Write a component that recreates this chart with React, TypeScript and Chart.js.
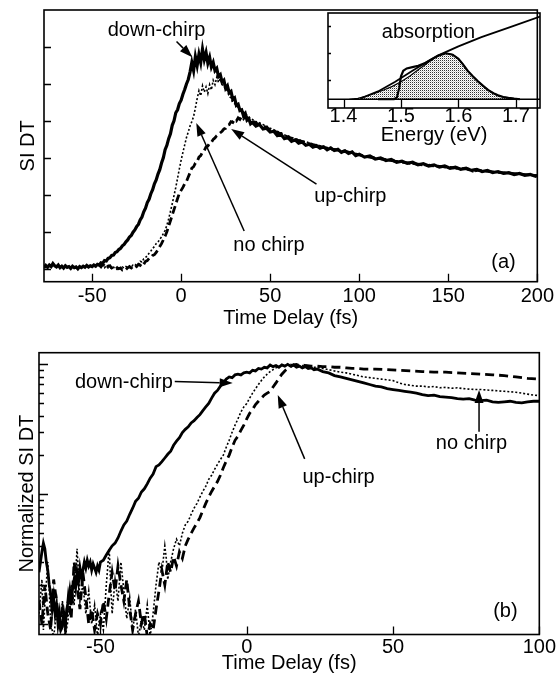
import React, { useEffect, useRef } from 'react';
import { Chart, registerables } from 'chart.js';
Chart.register(...registerables);

const FONT = '"Liberation Sans", Arial, Helvetica, sans-serif';
type P = [number, number];

// ---------- panel (a): SI DT vs time delay (fs) ----------
const aDown: P[] = [[-77,0.03],[-76,0.09],[-75,0.04],[-74,0.1],[-73,0.06],[-72,0.14],[-71,0.08],[-70,0.05],[-69,0.1],[-68,0.03],[-67,0.07],[-66,0.02],[-65,0.08],[-64,0.04],[-63,0.06],[-62,0.01],[-61,0.07],[-60,0.03],[-59,0.05],[-58,0.0],[-57,0.06],[-56,0.03],[-55,0.07],[-54,0.04],[-53,0.09],[-52,0.05],[-51,0.08],[-50,0.06],[-49,0.1],[-48,0.07],[-47,0.12],[-46,0.1],[-45,0.16],[-44,0.15],[-43,0.22],[-42,0.21],[-41,0.28],[-40,0.3],[-39,0.36],[-38,0.37],[-37,0.44],[-36,0.46],[-35,0.52],[-34,0.55],[-33,0.62],[-32,0.66],[-31,0.73],[-30,0.78],[-29,0.86],[-28,0.9],[-27,0.99],[-26,1.05],[-25,1.14],[-24,1.2],[-23,1.32],[-22,1.4],[-21,1.54],[-20,1.64],[-19,1.79],[-18,1.88],[-17,2.03],[-16,2.14],[-15,2.3],[-14,2.4],[-13,2.56],[-12,2.68],[-11,2.86],[-10,3.0],[-9,3.22],[-8,3.34],[-7,3.52],[-6,3.65],[-5,3.88],[-4,4.0],[-3,4.22],[-2,4.3],[-1,4.47],[0,4.56],[1,4.72],[2,4.85],[3,5.0],[4,5.12],[5,5.32],[6,5.58],[7,5.36],[8,5.74],[9,5.5],[10,5.8],[11,5.58],[12,5.94],[13,5.66],[14,5.85],[15,5.56],[16,5.72],[17,5.46],[18,5.58],[19,5.36],[20,5.42],[21,5.2],[22,5.25],[23,5.05],[24,5.1],[25,4.88],[26,4.95],[27,4.76],[28,4.8],[29,4.58],[30,4.62],[31,4.42],[32,4.45],[33,4.28],[34,4.3],[35,4.14],[36,4.2],[37,4.02],[38,4.06],[39,3.92],[40,3.96],[42,3.86],[44,3.9],[46,3.78],[48,3.8],[50,3.7],[52,3.72],[54,3.6],[56,3.64],[58,3.52],[60,3.55],[62,3.45],[64,3.49],[66,3.4],[68,3.43],[70,3.34],[72,3.37],[74,3.29],[76,3.33],[78,3.26],[80,3.3],[82,3.22],[84,3.27],[86,3.2],[88,3.23],[90,3.15],[92,3.19],[94,3.12],[96,3.16],[98,3.06],[100,3.1],[103,3.02],[106,3.05],[109,2.97],[112,3.0],[115,2.93],[118,2.96],[121,2.88],[124,2.91],[127,2.85],[130,2.88],[133,2.81],[136,2.84],[139,2.78],[142,2.81],[145,2.75],[148,2.78],[151,2.72],[154,2.75],[157,2.69],[160,2.72],[163,2.66],[166,2.69],[169,2.63],[172,2.66],[175,2.6],[178,2.63],[181,2.58],[184,2.6],[187,2.55],[190,2.58],[193,2.53],[196,2.55],[199,2.5],[200,2.53]];

const aNone: P[] = [[-46,0.12],[-45,0.06],[-44,0.1],[-43,0.03],[-42,0.08],[-41,0.02],[-40,0.05],[-39,0.0],[-38,0.04],[-37,0.02],[-36,-0.02],[-35,0.03],[-34,0.0],[-33,0.05],[-32,0.02],[-31,0.06],[-30,0.03],[-29,0.08],[-28,0.05],[-27,0.1],[-26,0.08],[-25,0.14],[-24,0.12],[-23,0.2],[-22,0.18],[-21,0.27],[-20,0.3],[-19,0.36],[-18,0.42],[-17,0.48],[-16,0.55],[-15,0.6],[-14,0.68],[-13,0.72],[-12,0.8],[-11,0.86],[-10,0.95],[-9,1.04],[-8,1.18],[-7,1.35],[-6,1.55],[-5,1.76],[-4,1.98],[-3,2.2],[-2,2.45],[-1,2.7],[0,2.94],[1,3.15],[2,3.35],[3,3.55],[4,3.7],[5,3.86],[6,3.98],[7,4.12],[8,4.35],[9,4.6],[10,4.82],[11,4.68],[12,4.95],[13,4.78],[14,4.92],[15,4.74],[16,4.98],[17,4.84],[18,5.1],[19,4.98],[20,5.18],[21,5.04],[22,5.14],[23,4.98],[24,4.96],[25,4.84],[26,4.82],[27,4.66],[28,4.62],[29,4.5],[30,4.47],[32,4.36],[34,4.28],[36,4.2],[38,4.1],[40,4.04],[42,3.98],[44,3.95],[46,3.9],[48,3.86],[50,3.8],[52,3.76],[54,3.72],[56,3.68],[58,3.62],[60,3.6],[62,3.55],[64,3.52],[66,3.5],[68,3.46],[70,3.44],[72,3.4],[74,3.38],[76,3.35],[78,3.33],[80,3.3],[82,3.28],[84,3.26],[86,3.24],[88,3.22],[90,3.2],[92,3.17],[94,3.15],[96,3.13],[98,3.1],[100,3.08],[104,3.03],[108,3.0],[112,2.96],[116,2.93],[120,2.9],[124,2.88],[128,2.85],[132,2.82],[136,2.79],[140,2.82],[144,2.76],[148,2.74],[152,2.72],[156,2.7],[160,2.69],[164,2.62],[168,2.66],[172,2.64],[176,2.61],[180,2.6],[184,2.58],[188,2.56],[192,2.55],[196,2.53],[200,2.51]];

const aUp: P[] = [[-46,0.1],[-45,0.05],[-44,0.12],[-43,0.08],[-42,0.13],[-41,0.06],[-40,0.08],[-39,0.02],[-38,0.05],[-37,0.08],[-36,0.03],[-35,0.0],[-34,0.02],[-33,-0.03],[-32,0.0],[-31,-0.02],[-30,0.03],[-29,0.05],[-28,0.02],[-27,0.07],[-26,0.1],[-25,0.06],[-24,0.12],[-23,0.09],[-22,0.16],[-21,0.12],[-20,0.2],[-19,0.22],[-18,0.28],[-17,0.3],[-16,0.36],[-15,0.38],[-14,0.44],[-13,0.52],[-12,0.6],[-11,0.68],[-10,0.78],[-9,0.88],[-8,1.0],[-7,1.15],[-6,1.3],[-5,1.45],[-4,1.6],[-3,1.75],[-2,1.9],[-1,2.04],[0,2.12],[1,2.2],[2,2.3],[3,2.36],[4,2.48],[5,2.6],[6,2.72],[7,2.76],[8,2.86],[9,2.9],[10,3.02],[11,3.06],[12,3.16],[13,3.2],[14,3.3],[15,3.32],[16,3.4],[17,3.42],[18,3.5],[19,3.54],[20,3.6],[21,3.64],[22,3.68],[23,3.72],[24,3.78],[25,3.8],[26,3.88],[27,3.9],[28,3.98],[29,3.96],[30,4.04],[31,4.0],[32,4.08],[33,4.04],[34,4.12],[35,4.06],[36,4.12],[38,4.06],[40,4.0],[42,3.94],[44,3.9],[46,3.86],[48,3.82],[50,3.76],[52,3.74],[54,3.68],[56,3.66],[58,3.6],[60,3.57],[62,3.53],[64,3.5],[66,3.47],[68,3.44],[70,3.4],[72,3.38],[74,3.36],[76,3.33],[78,3.31],[80,3.28],[84,3.24],[88,3.21],[92,3.18],[96,3.13],[100,3.08],[105,3.03],[110,2.99],[115,2.95],[120,2.91],[125,2.88],[130,2.85],[135,2.82],[140,2.79],[145,2.77],[150,2.75],[155,2.72],[160,2.7],[165,2.67],[170,2.65],[175,2.62],[180,2.6],[185,2.58],[190,2.56],[195,2.54],[200,2.52]];

// ---------- panel (b): normalized SI DT (log) ----------
const bDown: P[] = [[-71,0.025],[-70.5,0.03],[-70,0.036],[-69.5,0.042],[-69,0.038],[-68.5,0.03],[-68,0.026],[-67.5,0.02],[-67,0.017],[-66.5,0.013],[-66,0.016],[-65.5,0.012],[-65,0.014],[-64.5,0.01],[-64,0.012],[-63.5,0.009],[-63,0.0095],[-62.5,0.012],[-62,0.01],[-61.5,0.013],[-61,0.015],[-60.5,0.018],[-60,0.014],[-59.5,0.019],[-59,0.022],[-58.5,0.019],[-58,0.025],[-57.5,0.021],[-57,0.027],[-56.5,0.023],[-56,0.026],[-55.5,0.03],[-55,0.027],[-54.5,0.031],[-54,0.028],[-53.5,0.03],[-53,0.026],[-52.5,0.029],[-52,0.027],[-51.5,0.025],[-51,0.028],[-50.5,0.026],[-50,0.03],[-49,0.031],[-48,0.034],[-47,0.037],[-46,0.04],[-45,0.042],[-44,0.046],[-43,0.052],[-42,0.058],[-41,0.062],[-40,0.07],[-39,0.078],[-38,0.088],[-37,0.093],[-36,0.104],[-35,0.11],[-34,0.12],[-33,0.133],[-32,0.143],[-31,0.163],[-30,0.168],[-29,0.178],[-28,0.19],[-27,0.203],[-26,0.214],[-25,0.238],[-24,0.256],[-23,0.272],[-22,0.298],[-21,0.316],[-20,0.33],[-19,0.354],[-18,0.368],[-17,0.39],[-16,0.41],[-15,0.44],[-14,0.47],[-13,0.5],[-12,0.55],[-11,0.6],[-10,0.63],[-9,0.68],[-8,0.72],[-7,0.77],[-6,0.8],[-5,0.79],[-4,0.83],[-3,0.84],[-2,0.83],[-1,0.86],[0,0.87],[1,0.86],[2,0.9],[3,0.89],[4,0.93],[5,0.92],[6,0.95],[7,0.94],[8,0.99],[9,0.96],[10,0.98],[11,0.95],[12,0.99],[13,0.97],[14,1.0],[15,0.97],[16,0.99],[17,0.95],[18,0.97],[19,0.94],[20,0.96],[21,0.93],[22,0.94],[23,0.91],[24,0.92],[26,0.88],[28,0.86],[30,0.82],[32,0.8],[34,0.78],[36,0.76],[38,0.74],[40,0.72],[42,0.7],[44,0.68],[46,0.67],[48,0.65],[50,0.64],[52,0.63],[54,0.62],[56,0.61],[58,0.6],[60,0.585],[62,0.575],[64,0.58],[66,0.565],[68,0.56],[70,0.555],[72,0.545],[74,0.54],[76,0.545],[78,0.53],[80,0.525],[82,0.53],[84,0.515],[86,0.51],[88,0.515],[90,0.52],[92,0.51],[94,0.505],[96,0.515],[98,0.52],[100,0.52]];

const bNone: P[] = [[-71,0.012],[-70,0.022],[-69.5,0.009],[-69,0.014],[-68,0.03],[-67.5,0.018],[-67,0.01],[-66,0.008],[-65,0.012],[-64,0.009],[-63,0.015],[-62,0.008],[-61,0.011],[-60,0.02],[-59,0.014],[-58,0.038],[-57.5,0.025],[-57,0.015],[-56,0.02],[-55,0.012],[-54,0.018],[-53,0.01],[-52,0.014],[-51,0.008],[-50,0.012],[-49,0.009],[-48,0.02],[-47,0.038],[-46.5,0.02],[-46,0.012],[-45,0.022],[-44,0.015],[-43,0.03],[-42,0.018],[-41,0.011],[-40,0.016],[-39,0.009],[-38,0.013],[-37,0.008],[-36,0.011],[-35,0.009],[-34,0.014],[-33,0.008],[-32,0.012],[-31,0.02],[-30,0.03],[-29,0.025],[-28,0.04],[-27.5,0.032],[-27,0.022],[-26,0.03],[-25,0.038],[-24,0.045],[-23,0.04],[-22,0.05],[-21,0.058],[-20,0.062],[-19,0.07],[-18,0.078],[-17,0.085],[-16,0.095],[-15,0.105],[-14,0.115],[-13,0.13],[-12,0.14],[-11,0.155],[-10,0.17],[-9,0.185],[-8,0.2],[-7,0.23],[-6,0.26],[-5,0.3],[-4,0.34],[-3,0.38],[-2,0.43],[-1,0.47],[0,0.5],[1,0.55],[2,0.6],[3,0.65],[4,0.7],[5,0.75],[6,0.8],[7,0.84],[8,0.88],[9,0.91],[10,0.94],[11,0.96],[12,0.98],[13,0.97],[14,0.99],[15,1.0],[16,0.98],[17,0.99],[18,0.97],[19,0.98],[20,0.96],[22,0.95],[24,0.95],[26,0.93],[28,0.91],[30,0.89],[32,0.87],[34,0.86],[36,0.84],[38,0.82],[40,0.8],[42,0.79],[44,0.78],[46,0.77],[48,0.76],[50,0.75],[52,0.72],[54,0.7],[56,0.69],[58,0.68],[60,0.68],[62,0.67],[64,0.675],[66,0.66],[68,0.665],[70,0.655],[72,0.66],[74,0.65],[76,0.645],[78,0.64],[80,0.64],[82,0.635],[84,0.63],[86,0.625],[88,0.62],[90,0.615],[92,0.61],[94,0.6],[96,0.59],[98,0.58],[100,0.575]];

const bUp: P[] = [[-71,0.015],[-70,0.01],[-69,0.02],[-68,0.012],[-67,0.009],[-66,0.022],[-65,0.015],[-64,0.01],[-63,0.013],[-62,0.009],[-61,0.016],[-60,0.011],[-59,0.03],[-58,0.02],[-57,0.013],[-56,0.025],[-55,0.016],[-54,0.01],[-53,0.013],[-52,0.009],[-51,0.012],[-50,0.01],[-49,0.015],[-48,0.011],[-47,0.017],[-46,0.025],[-45,0.018],[-44,0.028],[-43,0.02],[-42,0.015],[-41,0.022],[-40,0.013],[-39,0.009],[-38,0.012],[-37,0.015],[-36,0.01],[-35,0.012],[-34,0.008],[-33,0.01],[-32,0.009],[-31,0.013],[-30,0.018],[-29,0.026],[-28,0.02],[-27,0.03],[-26,0.025],[-25,0.033],[-24,0.028],[-23,0.036],[-22,0.032],[-21,0.04],[-20,0.045],[-19,0.05],[-18,0.055],[-17,0.06],[-16,0.066],[-15,0.075],[-14,0.085],[-13,0.095],[-12,0.105],[-11,0.115],[-10,0.125],[-9,0.14],[-8,0.16],[-7,0.18],[-6,0.2],[-5,0.23],[-4,0.26],[-3,0.28],[-2,0.31],[-1,0.34],[0,0.38],[1,0.42],[2,0.45],[3,0.49],[4,0.52],[5,0.55],[6,0.58],[7,0.6],[8,0.62],[9,0.67],[10,0.72],[11,0.78],[12,0.84],[13,0.89],[14,0.93],[15,0.96],[16,0.99],[17,1.0],[18,0.98],[19,0.99],[20,0.98],[22,0.97],[24,0.97],[26,0.96],[28,0.96],[30,0.95],[32,0.95],[34,0.94],[36,0.93],[38,0.93],[40,0.92],[44,0.92],[48,0.91],[52,0.9],[56,0.89],[60,0.88],[64,0.87],[68,0.87],[72,0.86],[76,0.85],[80,0.84],[84,0.83],[88,0.82],[92,0.8],[96,0.78],[100,0.77]];

// ---------- inset: spectra vs energy (eV) ----------
const spectrum: P[] = [[1.41,0],[1.425,0.02],[1.44,0.07],[1.455,0.13],[1.47,0.2],[1.485,0.28],[1.5,0.38],[1.515,0.5],[1.53,0.64],[1.545,0.78],[1.555,0.87],[1.565,0.95],[1.578,1.0],[1.59,0.97],[1.6,0.88],[1.608,0.76],[1.616,0.62],[1.625,0.5],[1.634,0.39],[1.643,0.29],[1.652,0.2],[1.661,0.13],[1.669,0.085],[1.678,0.05],[1.687,0.03],[1.697,0.012],[1.707,0]];
const stepCurve: P[] = [[1.46,0],[1.488,0],[1.493,0.04],[1.497,0.25],[1.5,0.5],[1.504,0.62],[1.51,0.67],[1.52,0.7],[1.53,0.73],[1.541,0.78],[1.552,0.86],[1.565,0.95],[1.578,1.0],[1.59,0.97],[1.6,0.88],[1.608,0.76],[1.616,0.62],[1.625,0.5],[1.634,0.39],[1.643,0.29],[1.652,0.2],[1.661,0.13],[1.669,0.085],[1.678,0.05],[1.687,0.03],[1.697,0.012],[1.707,0]];
const absorption: P[] = [[1.43,0.02],[1.46,0.17],[1.49,0.38],[1.52,0.62],[1.545,0.81],[1.566,0.96],[1.6,1.15],[1.64,1.35],[1.69,1.57],[1.742,1.8]];

// ---------- tick values ----------
const aXTicks = [-50, 0, 50, 100, 150, 200];
const aYTicks = [0, 1, 2, 3, 4, 5, 6];
const bXTicks = [-50, 0, 50, 100];
const bYMajor = [0.01, 0.1, 1];
const bYMinor = [0.02, 0.03, 0.04, 0.05, 0.06, 0.07, 0.08, 0.09, 0.2, 0.3, 0.4, 0.5, 0.6, 0.7, 0.8, 0.9];
const insetXTicks = [1.4, 1.5, 1.6, 1.7];
const insetYTicks = [0.42, 1.0, 1.6];

// ---------- annotations (data coordinates) ----------
type Note = { text: string; x: number; y: number };
type Arrow = { from: P; to: P };
const aNotes: Note[] = [
  { text: 'down-chirp', x: -13.8, y: 6.45 },
  { text: 'no chirp', x: 49.3, y: 0.64 },
  { text: 'up-chirp', x: 95, y: 1.96 },
  { text: '(a)', x: 181, y: 0.18 },
];
const aArrows: Arrow[] = [
  { from: [-2.6, 6.15], to: [6.3, 5.72] },
  { from: [35.4, 1.02], to: [8.5, 3.94] },
  { from: [76, 2.29], to: [28.1, 3.78] },
];
const bNotes: Note[] = [
  { text: 'down-chirp', x: -42, y: 0.731 },
  { text: 'up-chirp', x: 31.4, y: 0.1334 },
  { text: 'no chirp', x: 76.8, y: 0.244 },
  { text: '(b)', x: 88.4, y: 0.0124 },
];
const bArrows: Arrow[] = [
  { from: [-24.6, 0.738], to: [-4.8, 0.718] },
  { from: [19.8, 0.187], to: [10.6, 0.58] },
  { from: [79.4, 0.302], to: [79.4, 0.634] },
];
const insetNotes: Note[] = [{ text: 'absorption', x: 1.548, y: 1.45 }];

const toXY = (arr: P[]) => arr.map(([x, y]) => ({ x, y }));

function drawArrow(ctx: CanvasRenderingContext2D, x1: number, y1: number, x2: number, y2: number) {
  const ang = Math.atan2(y2 - y1, x2 - x1);
  const L = 13, W = 4.5;
  const bx = x2 - L * Math.cos(ang), by = y2 - L * Math.sin(ang);
  ctx.lineWidth = 1.5;
  ctx.beginPath();
  ctx.moveTo(x1, y1);
  ctx.lineTo(bx, by);
  ctx.stroke();
  ctx.beginPath();
  ctx.moveTo(x2, y2);
  ctx.lineTo(bx + W * Math.sin(ang), by - W * Math.cos(ang));
  ctx.lineTo(bx - W * Math.sin(ang), by + W * Math.cos(ang));
  ctx.closePath();
  ctx.fill();
}

type DecorCfg = {
  xTicks: number[]; xLen: number;
  yTicks: number[]; yLen: number;
  yMinor?: number[]; yMinorLen?: number;
  notes?: Note[]; arrows?: Arrow[];
  baseline?: number;
};

const makeDecor = (cfg: DecorCfg) => ({
  id: 'decor',
  afterDatasetsDraw(chart: any) {
    const { ctx, chartArea: a, scales } = chart;
    const xs = scales.x, ys = scales.y;
    ctx.save();
    ctx.strokeStyle = '#000';
    ctx.fillStyle = '#000';
    ctx.lineWidth = 1.6;
    ctx.strokeRect(a.left, a.top, a.right - a.left, a.bottom - a.top);
    ctx.lineWidth = 1.3;
    ctx.beginPath();
    const xEnd = cfg.baseline !== undefined ? ys.getPixelForValue(cfg.baseline) : a.bottom - cfg.xLen;
    for (const v of cfg.xTicks) {
      const px = Math.round(xs.getPixelForValue(v)) + 0.5;
      ctx.moveTo(px, a.bottom);
      ctx.lineTo(px, xEnd);
    }
    for (const v of cfg.yTicks) {
      const py = Math.round(ys.getPixelForValue(v)) + 0.5;
      ctx.moveTo(a.left, py);
      ctx.lineTo(a.left + cfg.yLen, py);
    }
    for (const v of cfg.yMinor || []) {
      const py = Math.round(ys.getPixelForValue(v)) + 0.5;
      ctx.moveTo(a.left, py);
      ctx.lineTo(a.left + (cfg.yMinorLen || 4), py);
    }
    ctx.stroke();
    if (cfg.baseline !== undefined) {
      const py = ys.getPixelForValue(cfg.baseline);
      ctx.lineWidth = 1.6;
      ctx.beginPath();
      ctx.moveTo(a.left, py);
      ctx.lineTo(a.right, py);
      ctx.stroke();
    }
    ctx.font = `20px ${FONT}`;
    ctx.textAlign = 'center';
    ctx.textBaseline = 'middle';
    for (const n of cfg.notes || []) {
      ctx.fillText(n.text, xs.getPixelForValue(n.x), ys.getPixelForValue(n.y));
    }
    for (const ar of cfg.arrows || []) {
      drawArrow(ctx, xs.getPixelForValue(ar.from[0]), ys.getPixelForValue(ar.from[1]),
        xs.getPixelForValue(ar.to[0]), ys.getPixelForValue(ar.to[1]));
    }
    ctx.restore();
  },
});

const tickFont = { family: FONT, size: 20, lineHeight: 1 };

function lineDs(data: P[], width: number, dash: number[] = []) {
  return {
    data: toXY(data),
    borderColor: '#000',
    backgroundColor: '#000',
    borderWidth: width,
    borderDash: dash,
    pointRadius: 0,
    tension: 0,
    fill: false,
  };
}

function stipple(): CanvasPattern | string {
  const c = document.createElement('canvas');
  c.width = 2; c.height = 2;
  const g = c.getContext('2d');
  if (!g) return '#c0c0c0';
  g.fillStyle = '#ffffff';
  g.fillRect(0, 0, 2, 2);
  g.fillStyle = '#333333';
  g.fillRect(0, 0, 1, 1);
  g.fillStyle = '#cccccc';
  g.fillRect(1, 1, 1, 1);
  return g.createPattern(c, 'repeat') || '#c0c0c0';
}

export default function App() {
  const aRef = useRef<HTMLCanvasElement>(null);
  const bRef = useRef<HTMLCanvasElement>(null);
  const iRef = useRef<HTMLCanvasElement>(null);

  useEffect(() => {
    const common = {
      animation: false as const,
      responsive: false,
      devicePixelRatio: 1,
      plugins: { legend: { display: false }, tooltip: { enabled: false } },
      events: [] as any[],
    };

    const chartA = new Chart(aRef.current!, {
      type: 'line',
      data: { datasets: [lineDs(aDown, 3.2), lineDs(aNone, 1.6, [2, 2]), lineDs(aUp, 2.8, [8, 4])] as any },
      options: {
        ...common,
        layout: { padding: { left: 0, top: 10, right: 19, bottom: 0 } },
        scales: {
          x: {
            type: 'linear', min: -77, max: 200,
            grid: { display: false, drawTicks: false }, border: { display: false },
            afterBuildTicks: (s: any) => { s.ticks = aXTicks.map((value) => ({ value })); },
            ticks: { font: tickFont, color: '#000', padding: 5, maxRotation: 0, autoSkip: false },
            title: { display: true, text: 'Time Delay (fs)', color: '#000', font: tickFont, padding: { top: 0, bottom: 7 } },
            afterFit: (s: any) => { s.height = 53.3; },
          },
          y: {
            type: 'linear', min: -0.35, max: 7.0,
            grid: { display: false, drawTicks: false }, border: { display: false },
            ticks: { display: false },
            title: { display: true, text: 'SI DT', color: '#000', font: tickFont, padding: { top: 18, bottom: 0 } },
            afterFit: (s: any) => { s.width = 44; },
          },
        },
      } as any,
      plugins: [makeDecor({ xTicks: aXTicks, xLen: 8, yTicks: aYTicks, yLen: 7, notes: aNotes, arrows: aArrows })],
    });

    const chartB = new Chart(bRef.current!, {
      type: 'line',
      data: { datasets: [lineDs(bDown, 2.8), lineDs(bNone, 1.6, [2, 2]), lineDs(bUp, 2.8, [9, 5])] as any },
      options: {
        ...common,
        layout: { padding: { left: 0, top: 17.7, right: 19, bottom: 0 } },
        scales: {
          x: {
            type: 'linear', min: -71, max: 100,
            grid: { display: false, drawTicks: false }, border: { display: false },
            afterBuildTicks: (s: any) => { s.ticks = bXTicks.map((value) => ({ value })); },
            ticks: { font: tickFont, color: '#000', padding: 3, maxRotation: 0, autoSkip: false },
            title: { display: true, text: 'Time Delay (fs)', color: '#000', font: tickFont, padding: { top: 0, bottom: 0 } },
            afterFit: (s: any) => { s.height = 38.5; },
          },
          y: {
            type: 'logarithmic', min: 0.0083, max: 1.23,
            grid: { display: false, drawTicks: false }, border: { display: false },
            ticks: { display: false },
            title: { display: true, text: 'Normalized SI DT', color: '#000', font: tickFont, padding: { top: 17.5, bottom: 0 } },
            afterFit: (s: any) => { s.width = 39; },
          },
        },
      } as any,
      plugins: [makeDecor({ xTicks: bXTicks, xLen: 8, yTicks: bYMajor, yLen: 9, yMinor: bYMinor, yMinorLen: 5, notes: bNotes, arrows: bArrows })],
    });

    const specDs: any = { ...lineDs(spectrum, 1.2), fill: 'origin', backgroundColor: stipple() };
    const chartI = new Chart(iRef.current!, {
      type: 'line',
      data: { datasets: [lineDs(absorption, 1.8), lineDs(stepCurve, 2.2), specDs] as any },
      options: {
        ...common,
        layout: { padding: { left: 18, top: 13, right: 19, bottom: 0 } },
        scales: {
          x: {
            type: 'linear', min: 1.373, max: 1.742,
            grid: { display: false, drawTicks: false }, border: { display: false },
            afterBuildTicks: (s: any) => { s.ticks = insetXTicks.map((value) => ({ value })); },
            ticks: { font: tickFont, color: '#000', padding: -2, maxRotation: 0, autoSkip: false,
              callback: (v: any) => Number(v).toFixed(1) },
            title: { display: true, text: 'Energy (eV)', color: '#000', font: tickFont, padding: { top: 0, bottom: 5 } },
            afterFit: (s: any) => { s.height = 42; },
          },
          y: { type: 'linear', min: -0.19, max: 1.876, display: false },
        },
      } as any,
      plugins: [makeDecor({ xTicks: insetXTicks, xLen: 7, yTicks: insetYTicks, yLen: 3, notes: insetNotes, baseline: 0 })],
    });

    return () => { chartA.destroy(); chartB.destroy(); chartI.destroy(); };
  }, []);

  return (
    <div style={{ position: 'absolute', left: 0, top: 0, width: 559, height: 673, background: '#fff', overflow: 'hidden' }}>
      <canvas ref={aRef} width={559} height={335} style={{ position: 'absolute', left: 0, top: 0 }} />
      <canvas ref={bRef} width={559} height={338} style={{ position: 'absolute', left: 0, top: 335 }} />
      <canvas ref={iRef} width={249} height={150} style={{ position: 'absolute', left: 310, top: 0 }} />
    </div>
  );
}
